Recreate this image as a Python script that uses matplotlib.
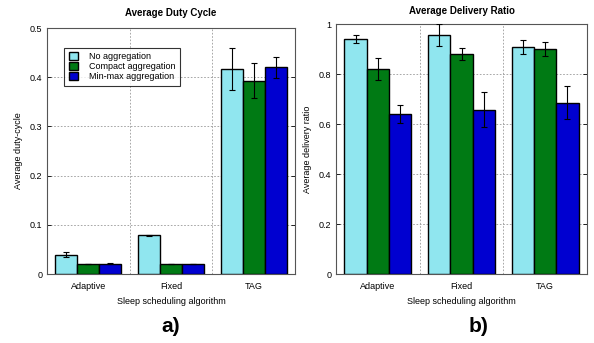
import numpy as np
import matplotlib.pyplot as plt

plt.rcParams['font.family'] = ['Liberation Sans', 'DejaVu Sans']

algos = ["Adaptive", "Fixed", "TAG"]
series = ["No aggregation", "Compact aggregation", "Min-max aggregation"]
colors = ["#90e6ef", "#007a14", "#0000d0"]

# Average duty cycle (mean, error)
duty = [[0.039, 0.079, 0.417],
        [0.021, 0.020, 0.393],
        [0.021, 0.020, 0.420]]
duty_err = [[0.005, 0.001, 0.042],
            [0.0, 0.0, 0.035],
            [0.001, 0.0, 0.022]]

# Average delivery ratio (mean, error)
deliv = [[0.940, 0.957, 0.910],
         [0.822, 0.881, 0.900],
         [0.642, 0.657, 0.686]]
deliv_err = [[0.015, 0.045, 0.028],
             [0.044, 0.024, 0.027],
             [0.036, 0.070, 0.066]]

fig = plt.figure(figsize=(5.94, 3.43), dpi=100)
ax1 = fig.add_axes([47/594, 1-274/343, 248/594, 246/343])
ax2 = fig.add_axes([336/594, 1-274/343, 251/594, 250/343])

x = np.arange(len(algos))
w = 0.8 / 3


def draw(ax, vals, errs, title, ylabel, ymax, yticks, tpad):
    for i in range(3):
        ax.bar(x + (i - 1) * w, vals[i], w, color=colors[i], edgecolor="black",
               linewidth=1.0, label=series[i], zorder=3)
        ax.errorbar(x + (i - 1) * w, vals[i], yerr=errs[i], fmt="none",
                    ecolor="black", elinewidth=0.8, capsize=2, capthick=0.8, zorder=4)
    ax.set_xlim(-0.5, 2.5)
    ax.set_ylim(0, ymax)
    ax.set_xticks(x)
    ax.set_xticklabels(algos, fontsize=6.5)
    ax.set_yticks(yticks)
    ax.set_yticklabels([("%g" % t) for t in yticks], fontsize=6.5)
    ax.tick_params(axis="x", length=0, pad=6)
    ax.tick_params(axis="y", direction="in", right=True, length=3, width=0.6)
    for xv in [0.5, 1.5]:
        ax.axvline(xv, color="#999999", linestyle=(0, (2, 2)), linewidth=0.6, zorder=1)
    for yv in yticks[1:-1]:
        ax.axhline(yv, color="#999999", linestyle=(0, (2, 2)), linewidth=0.6, zorder=1)
    for s in ax.spines.values():
        s.set_color("#555555")
        s.set_linewidth(0.8)
    ax.set_title(title, fontsize=7, fontweight="bold", pad=tpad)
    ax.set_ylabel(ylabel, fontsize=6.5, labelpad=5)
    ax.set_xlabel("Sleep scheduling algorithm", fontsize=6.5, labelpad=4)


draw(ax1, duty, duty_err, "Average Duty Cycle", "Average duty-cycle", 0.5,
     [0, 0.1, 0.2, 0.3, 0.4, 0.5], 9)
draw(ax2, deliv, deliv_err, "Average Delivery Ratio", "Average delivery ratio", 1.0,
     [0, 0.2, 0.4, 0.6, 0.8, 1.0], 7.5)

leg = ax1.legend(loc="upper left", bbox_to_anchor=(0.07, 0.92), fontsize=6.5,
                 frameon=True, fancybox=False, edgecolor="black",
                 handlelength=1.0, handleheight=0.9, handletextpad=1.2,
                 borderpad=0.5, labelspacing=0.1, borderaxespad=0)
leg.get_frame().set_linewidth(0.8)

fig.text(171/594, 1-326/343, "a)", fontsize=15, fontweight="bold", ha="center", va="center")
fig.text(479/594, 1-326/343, "b)", fontsize=15, fontweight="bold", ha="center", va="center")

fig.savefig("out.png", dpi=100)
